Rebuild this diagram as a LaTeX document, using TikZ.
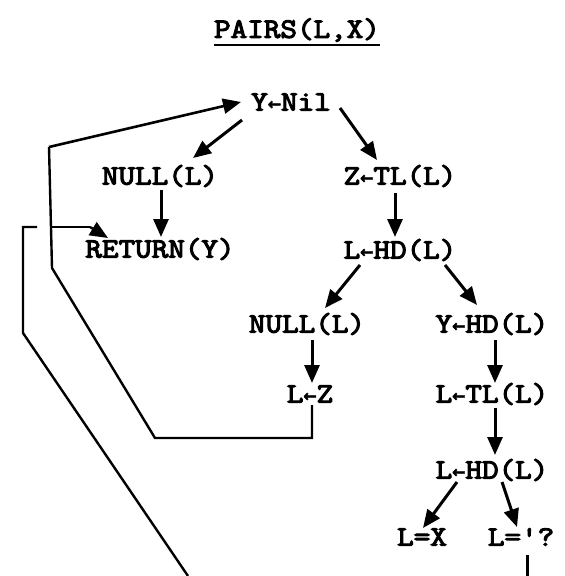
\documentclass[tikz,border=0pt]{standalone}
\usepackage{fontspec}
\usetikzlibrary{arrows.meta,calc}
\newfontfamily\tw[FakeStretch=1.15,FakeBold=4]{Latin Modern Mono}
\newfontfamily\arwfont[FakeBold=2]{DejaVu Sans Mono}
\newcommand{\la}{{\arwfont\fontsize{22}{22}\selectfont ←}}
\tikzset{
  lbl/.style={font=\tw\fontsize{28}{28}\selectfont, inner sep=0pt, anchor=center},
  arr/.style={line width=3pt, -{Triangle[length=18pt,width=15pt]}},
  loopline/.style={line width=2.4pt, line join=miter},
}
\begin{document}
\begin{tikzpicture}[x=1pt,y=-1pt]
\useasboundingbox (0,0) rectangle (565,576);
\node[lbl] (title) at (297,30) {PAIRS(L,X)};
\draw[line width=2.6pt] ($(title.south west)+(0,3)$) -- ($(title.south east)+(0,3)$);
\node[lbl] (ynil) at (291,102) {Y\la Nil};
\node[lbl] (null1) at (160,176) {NULL(L)};
\node[lbl] (ztl) at (400,176) {Z\la TL(L)};
\node[lbl] (ret) at (160,249) {RETURN(Y)};
\node[lbl] (lhd1) at (400,250) {L\la HD(L)};
\node[lbl] (null2) at (307,324) {NULL(L)};
\node[lbl] (yhd) at (492,324) {Y\la HD(L)};
\node[lbl] (lz) at (310,394) {L\la Z};
\node[lbl] (ltl) at (492,394) {L\la TL(L)};
\node[lbl] (lhd2) at (492,470) {L\la HD(L)};
\node[lbl] (lx) at (422,537) {L=X};
\node[lbl] (lq) at (521,537) {L='?};

\draw[arr] ($(ynil)+(-49,18)$) -- ($(null1)+(33,-18)$);
\draw[arr] ($(ynil)+(49,6)$) -- ($(ztl)+(-23,-16)$);
\draw[arr] ($(null1)+(1,14)$) -- ($(ret)+(1,-12)$);
\draw[arr] ($(ztl)+(-5,17)$) -- ($(lhd1)+(-5,-13)$);
\draw[arr] ($(lhd1)+(-40,15)$) -- ($(null2)+(18,-16)$);
\draw[arr] ($(lhd1)+(45,15)$) -- ($(yhd)+(-15,-19)$);
\draw[arr] ($(null2)+(5,16)$) -- ($(lz)+(2,-11)$);
\draw[arr] ($(yhd)+(3,16)$) -- ($(ltl)+(3,-11)$);
\draw[arr] ($(ltl)+(3,14)$) -- ($(lhd2)+(3,-15)$);
\draw[arr] ($(lhd2)+(-35,12)$) -- ($(lx)+(1,-9)$);
\draw[arr] ($(lhd2)+(10,12)$) -- ($(lq)+(-4,-10)$);

% loop back from L<-Z to Y<-Nil
\coordinate (a1) at (312,438);
\coordinate (a2) at (155,438);
\coordinate (a3) at (52,268);
\coordinate (a4) at (49,147);
\draw[loopline] ($(lz)+(2,11)$) -- (a1) -- (a2) -- (a3) -- (a4);
\draw[arr, line width=2.6pt] (a4) -- ($(ynil)+(-50,0)$);
% branch to RETURN(Y)
\coordinate (b1) at (50,227);
\coordinate (b2) at (90,227);
\draw[loopline] (b1) -- (b2);
\draw[arr, line width=2.4pt] (b2) -- ($(ret)+(-52,-11)$);
% second loop line
\coordinate (c1) at (37,227);
\coordinate (c2) at (23,227);
\coordinate (c3) at (23,333);
\coordinate (c4) at (188,576);
\draw[loopline] (c1) -- (c2) -- (c3) -- (c4);
% exit from L='?
\coordinate (d1) at (527,576);
\draw[line width=3pt] ($(lq)+(6,18)$) -- (d1);
\end{tikzpicture}
\end{document}
